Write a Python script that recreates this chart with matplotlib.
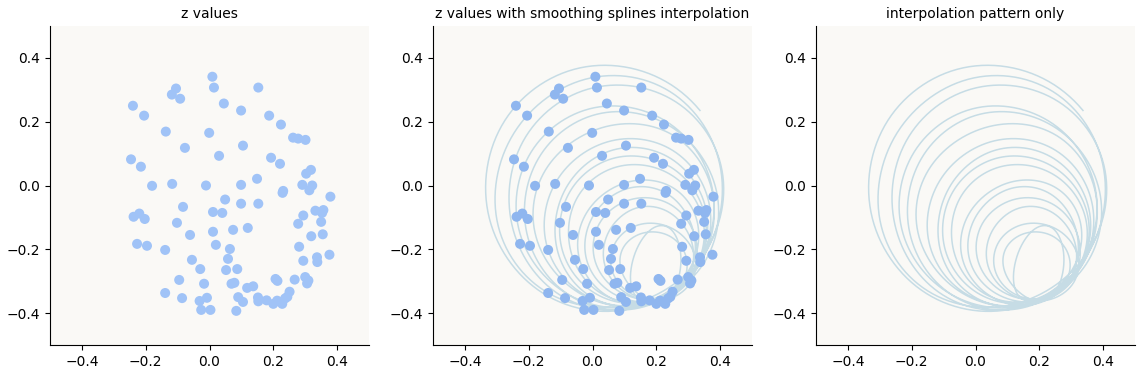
import numpy as np
import matplotlib
matplotlib.use("Agg")
import matplotlib.pyplot as plt

z_real = [0.009, 0.014, -0.105, -0.118, -0.092, -0.240, 0.045, 0.099, -0.205, -0.137,
          -0.001, 0.105, -0.077, 0.030, -0.246, -0.215, -0.180, -0.117, -0.011, 0.099,
          0.153, 0.187, 0.224, 0.262, 0.278, 0.301, 0.193, 0.221, 0.318, 0.303,
          0.149, 0.291, 0.322, 0.313, 0.231, 0.229, 0.379, 0.049, 0.099, 0.153,
          -0.083, 0.011, 0.040, -0.238, -0.220, -0.203, -0.102, 0.294, 0.278, 0.332,
          0.357, 0.353, 0.350, 0.011, 0.074, 0.120, -0.061, 0.319, 0.355, -0.227,
          -0.196, 0.020, -0.139, 0.064, 0.281, -0.055, 0.058, 0.294, 0.337, 0.338,
          0.376, -0.029, 0.052, 0.087, -0.095, -0.017, 0.069, 0.078, 0.118, 0.137,
          0.207, 0.213, 0.267, 0.300, 0.310, 0.306, -0.139, 0.251, 0.244, -0.086,
          -0.008, -0.031, 0.090, 0.105, 0.152, 0.153, 0.179, 0.200, 0.212, 0.228,
          0.237, -0.026, 0.003, 0.084]
z_imag = [0.341, 0.307, 0.304, 0.285, 0.272, 0.250, 0.257, 0.235, 0.219, 0.169,
          0.165, 0.125, 0.118, 0.093, 0.082, 0.059, -0.001, 0.005, 0.000, 0.002,
          0.307, 0.219, 0.191, 0.150, 0.147, 0.143, 0.087, 0.068, 0.049, 0.037,
          0.021, 0.002, 0.000, -0.015, -0.017, -0.023, -0.035, -0.044, -0.057, -0.057,
          -0.067, -0.083, -0.086, -0.098, -0.088, -0.105, -0.117, -0.094, -0.120, -0.079,
          -0.077, -0.086, -0.114, -0.145, -0.139, -0.133, -0.155, -0.159, -0.153, -0.183,
          -0.189, -0.186, -0.202, -0.199, -0.192, -0.233, -0.230, -0.236, -0.225, -0.240,
          -0.217, -0.262, -0.265, -0.262, -0.296, -0.308, -0.308, -0.305, -0.321, -0.316,
          -0.293, -0.299, -0.295, -0.287, -0.298, -0.307, -0.337, -0.333, -0.349, -0.353,
          -0.352, -0.362, -0.350, -0.365, -0.351, -0.363, -0.360, -0.371, -0.361, -0.371,
          -0.354, -0.390, -0.390, -0.393]

titles = ["z values", "z values with smoothing splines interpolation",
          "interpolation pattern only"]
ticks = [-0.4, -0.2, 0.0, 0.2, 0.4]

POINT_COLOR = "#a0c3f7"
POINT_COLOR_MID = "#8fb6ef"
LINE_COLOR = "#c6dce5"
FACE = "#faf9f6"

# ---- parameterise the points along a spiral of loops touching in the lower right ----
P = np.column_stack([z_real, z_imag])
N = len(P)
T = np.array([0.24, -0.34])
d = np.array([-0.51, 0.86]); d /= np.linalg.norm(d)
v = P - T
dot = np.maximum(v @ d, 0.02)
s = (v ** 2).sum(1) / (2 * dot)
centers = T + np.clip(s, 0.1, 0.4)[:, None] * d
phi = np.arctan2(P[:, 1] - centers[:, 1], P[:, 0] - centers[:, 0])
n_laps = 17
rank = np.argsort(np.argsort(-s))
t_est = rank / (N - 1) * n_laps
frac = ((phi - np.pi / 2) / (2 * np.pi)) % 1.0
t = frac + np.round(t_est - frac)


# ---- penalised cubic B-spline smoother (loop-friendly penalty) ----
def bspline_basis(x, knots, k=3):
    n = len(knots) - 1
    B = np.zeros((len(x), n))
    for i in range(n):
        B[:, i] = (x >= knots[i]) & (x < knots[i + 1])
    for kk in range(1, k + 1):
        Bn = np.zeros((len(x), n - kk))
        for i in range(n - kk):
            d1 = knots[i + kk] - knots[i]
            d2 = knots[i + kk + 1] - knots[i + 1]
            a = (x - knots[i]) / d1 * B[:, i] if d1 > 0 else 0
            b = (knots[i + kk + 1] - x) / d2 * B[:, i + 1] if d2 > 0 else 0
            Bn[:, i] = a + b
        B = Bn
    return B


h = 0.125
t0, t1 = t.min() - 1e-6, t.max() + 1e-6
inner = np.arange(t0, t1 + h, h)
knots = np.concatenate([t0 - h * np.arange(3, 0, -1), inner, inner[-1] + h * np.arange(1, 4)])
B = bspline_basis(t, knots)
m = B.shape[1]
c2 = 2 * np.cos(2 * np.pi * h)
op = np.array([-1.0, 1.0 + c2, -(1.0 + c2), 1.0])
D = np.zeros((m - 3, m))
for i in range(m - 3):
    D[i, i:i + 4] = op
lam = 0.05
A = B.T @ B + lam * D.T @ D + 1e-8 * np.eye(m)
cx = np.linalg.solve(A, B.T @ P[:, 0])
cy = np.linalg.solve(A, B.T @ P[:, 1])
tt = np.linspace(t.min() + 0.2, t.max() - 0.2, 4000)
Bt = bspline_basis(tt, knots)
curve_x = Bt @ cx
curve_y = Bt @ cy

fig = plt.figure(figsize=(11.47, 3.79), dpi=100)
lefts = [50, 433, 816]
axes = []
for i, lx in enumerate(lefts):
    ax = fig.add_axes([lx / 1147, 34 / 379, 319 / 1147, 319 / 379])
    ax.set_facecolor(FACE)
    ax.set_xlim(-0.5, 0.5)
    ax.set_ylim(-0.5, 0.5)
    ax.set_xticks(ticks)
    ax.set_yticks(ticks)
    ax.tick_params(labelsize=10)
    for sp in ("top", "right"):
        ax.spines[sp].set_visible(False)
    ax.set_title(titles[i], fontsize=10)
    axes.append(ax)

axes[0].scatter(z_real, z_imag, s=52, color=POINT_COLOR, edgecolors="none", zorder=3)
axes[1].plot(curve_x, curve_y, color=LINE_COLOR, lw=1.1, zorder=2)
axes[1].scatter(z_real, z_imag, s=52, color=POINT_COLOR_MID, edgecolors="none", zorder=3)
axes[2].plot(curve_x, curve_y, color=LINE_COLOR, lw=1.1, zorder=2)

fig.savefig("out.png", dpi=100)
